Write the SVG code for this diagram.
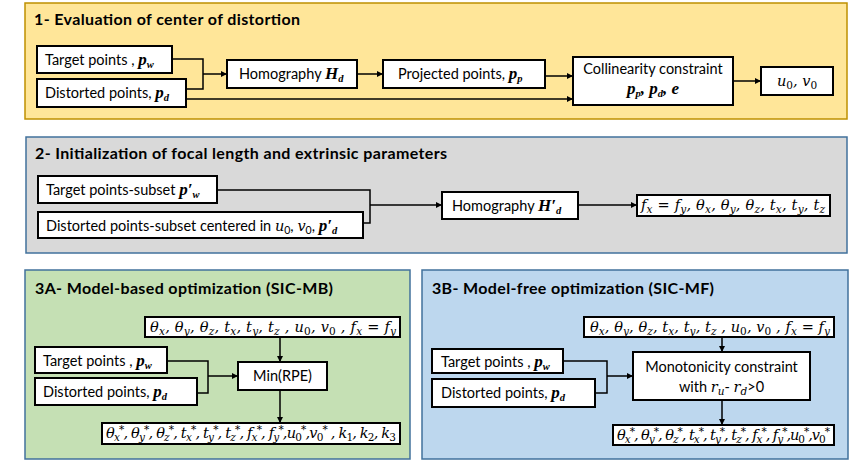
<svg xmlns="http://www.w3.org/2000/svg" width="863" height="464" viewBox="0 0 863 464">
<defs>
<marker id="ah" viewBox="0 0 10 10" refX="10" refY="5" markerWidth="7" markerHeight="6" markerUnits="userSpaceOnUse" orient="auto"><path d="M0,0 L10,5 L0,10 z" fill="#000"/></marker>
<style>
.s1{fill:#FFE699;stroke:#BF9000;stroke-width:1.5}
.s2{fill:#D9D9D9;stroke:#41719C;stroke-width:1.5}
.s3a{fill:#C5E0B4;stroke:#41719C;stroke-width:1.5}
.s3b{fill:#BDD7EE;stroke:#41719C;stroke-width:1.5}
.box{fill:#fff;stroke:#000;stroke-width:2}
.t{font-family:Lato,"Open Sans",sans-serif;font-size:14.5px;fill:#000}
.ti{font-family:Lato,"Open Sans",sans-serif;font-weight:bold;font-size:16px;fill:#000}
.m{font-family:"DejaVu Serif",serif;font-style:italic;font-size:14.5px}
.mb{font-family:"Liberation Serif",serif;font-style:italic;font-weight:bold;font-size:17px}
.sb{font-size:10.5px}
.n{font-style:normal}
.c{fill:none;stroke:#000;stroke-width:1.5}
.a{fill:none;stroke:#000;stroke-width:1.5;marker-end:url(#ah)}
</style>
</defs>
<g id="section1">
<rect class="s1" x="25" y="3" width="822" height="116"/>
<text class="ti" x="34" y="25" textLength="266">1- Evaluation of center of distortion</text>
</g>
<g id="section2">
<rect class="s2" x="26" y="137" width="821" height="116"/>
<text class="ti" x="35" y="159" textLength="412">2- Initialization of focal length and extrinsic parameters</text>
</g>
<g id="section3a">
<rect class="s3a" x="25" y="270" width="385" height="189"/>
<text class="ti" x="35" y="294" textLength="298">3A- Model-based optimization  (SIC-MB)</text>
</g>
<g id="section3b">
<rect class="s3b" x="422" y="270" width="426" height="189"/>
<text class="ti" x="432" y="294" textLength="282">3B- Model-free optimization  (SIC-MF)</text>
</g>

<g id="n1-target">
<rect class="box" x="37" y="46" width="135" height="27"/>
<text class="t" x="45" y="65">Target points , <tspan class="mb">p</tspan><tspan class="mb sb" dy="3">w</tspan></text>
</g>
<g id="n1-distorted">
<rect class="box" x="37" y="79" width="149" height="28"/>
<text class="t" x="45" y="98">Distorted points, <tspan class="mb">p</tspan><tspan class="mb sb" dy="3">d</tspan></text>
</g>
<g id="n1-homography">
<rect class="box" x="227" y="60" width="130" height="28"/>
<text class="t" x="239" y="79">Homography <tspan class="mb">H</tspan><tspan class="mb sb" dy="3">d</tspan></text>
</g>
<g id="n1-projected">
<rect class="box" x="383" y="60" width="162" height="28"/>
<text class="t" x="398" y="79">Projected points, <tspan class="mb">p</tspan><tspan class="mb sb" dy="3">p</tspan></text>
</g>
<g id="n1-collinearity">
<rect class="box" x="573" y="57" width="160" height="48"/>
<text class="t" x="653" y="74" text-anchor="middle">Collinearity constraint</text>
<text class="t" x="653" y="94" text-anchor="middle"><tspan class="mb">p</tspan><tspan class="mb sb" dy="3">p</tspan><tspan class="mb" dy="-3">, p</tspan><tspan class="mb sb" dy="3">d</tspan><tspan class="mb" dy="-3">, e</tspan></text>
</g>
<g id="n1-center">
<rect class="box" x="761" y="67" width="72" height="28"/>
<text class="m" x="797" y="86" text-anchor="middle">u<tspan class="sb n" dy="3">0</tspan><tspan dy="-3">, v</tspan><tspan class="sb n" dy="3">0</tspan></text>
</g>

<g id="n2-target">
<rect class="box" x="38" y="176" width="179" height="27"/>
<text class="t" x="46" y="195">Target points-subset <tspan class="mb">p′</tspan><tspan class="mb sb" dy="3">w</tspan></text>
</g>
<g id="n2-distorted">
<rect class="box" x="38" y="212" width="325" height="26"/>
<text class="t" x="46" y="231">Distorted points-subset centered in <tspan class="m">u</tspan><tspan class="sb" dy="3">0</tspan><tspan dy="-3">, </tspan><tspan class="m">v</tspan><tspan class="sb" dy="3">0</tspan><tspan dy="-3">, </tspan><tspan class="mb">p′</tspan><tspan class="mb sb" dy="3">d</tspan></text>
</g>
<g id="n2-homography">
<rect class="box" x="442" y="192" width="136" height="27"/>
<text class="t" x="452" y="211">Homography <tspan class="mb">H′</tspan><tspan class="mb sb" dy="3">d</tspan></text>
</g>
<g id="n2-result">
<rect class="box" x="637" y="195" width="193" height="21"/>
<text class="m" x="733" y="210" text-anchor="middle" textLength="184">f<tspan class="sb" dy="3">x</tspan><tspan class="n" dy="-3"> = </tspan>f<tspan class="sb" dy="3">y</tspan><tspan dy="-3">, θ</tspan><tspan class="sb" dy="3">x</tspan><tspan dy="-3">, θ</tspan><tspan class="sb" dy="3">y</tspan><tspan dy="-3">, θ</tspan><tspan class="sb" dy="3">z</tspan><tspan dy="-3">, t</tspan><tspan class="sb" dy="3">x</tspan><tspan dy="-3">, t</tspan><tspan class="sb" dy="3">y</tspan><tspan dy="-3">, t</tspan><tspan class="sb" dy="3">z</tspan></text>
</g>

<g id="n3a-params">
<rect class="box" x="145" y="317" width="255" height="20"/>
<text class="m" x="273" y="332" text-anchor="middle" textLength="246">θ<tspan class="sb" dy="3">x</tspan><tspan dy="-3">, θ</tspan><tspan class="sb" dy="3">y</tspan><tspan dy="-3">, θ</tspan><tspan class="sb" dy="3">z</tspan><tspan dy="-3">, t</tspan><tspan class="sb" dy="3">x</tspan><tspan dy="-3">, t</tspan><tspan class="sb" dy="3">y</tspan><tspan dy="-3">, t</tspan><tspan class="sb" dy="3">z</tspan><tspan dy="-3"> , u</tspan><tspan class="sb n" dy="3">0</tspan><tspan dy="-3">, v</tspan><tspan class="sb n" dy="3">0</tspan><tspan dy="-3"> , f</tspan><tspan class="sb" dy="3">x</tspan><tspan class="n" dy="-3"> = </tspan>f<tspan class="sb" dy="3">y</tspan></text>
</g>
<g id="n3a-target">
<rect class="box" x="35" y="347" width="132" height="26"/>
<text class="t" x="43" y="366">Target points , <tspan class="mb">p</tspan><tspan class="mb sb" dy="3">w</tspan></text>
</g>
<g id="n3a-distorted">
<rect class="box" x="35" y="378" width="162" height="27"/>
<text class="t" x="43" y="397">Distorted points, <tspan class="mb">p</tspan><tspan class="mb sb" dy="3">d</tspan></text>
</g>
<g id="n3a-min">
<rect class="box" x="238" y="362" width="89" height="28"/>
<text class="t" x="282.5" y="381" text-anchor="middle">Min(RPE)</text>
</g>
<g id="n3a-output">
<rect class="box" x="102" y="423" width="298" height="21"/>
<text class="m" x="251" y="438" text-anchor="middle" textLength="290">θ<tspan class="sb" dy="3">x</tspan><tspan class="sb" dy="-8">*</tspan><tspan dy="5">, θ</tspan><tspan class="sb" dy="3">y</tspan><tspan class="sb" dy="-8">*</tspan><tspan dy="5">, θ</tspan><tspan class="sb" dy="3">z</tspan><tspan class="sb" dy="-8">*</tspan><tspan dy="5">, t</tspan><tspan class="sb" dy="3">x</tspan><tspan class="sb" dy="-8">*</tspan><tspan dy="5">, t</tspan><tspan class="sb" dy="3">y</tspan><tspan class="sb" dy="-8">*</tspan><tspan dy="5">, t</tspan><tspan class="sb" dy="3">z</tspan><tspan class="sb" dy="-8">*</tspan><tspan dy="5">, f</tspan><tspan class="sb" dy="3">x</tspan><tspan class="sb" dy="-8">*</tspan><tspan dy="5">, f</tspan><tspan class="sb" dy="3">y</tspan><tspan class="sb" dy="-8">*</tspan><tspan dy="5">,u</tspan><tspan class="sb n" dy="3">0</tspan><tspan class="sb" dy="-8">*</tspan><tspan dy="5">,v</tspan><tspan class="sb n" dy="3">0</tspan><tspan class="sb" dy="-8">*</tspan><tspan dy="5"> , k</tspan><tspan class="sb n" dy="3">1</tspan><tspan dy="-3">, k</tspan><tspan class="sb n" dy="3">2</tspan><tspan dy="-3">, k</tspan><tspan class="sb n" dy="3">3</tspan></text>
</g>

<g id="n3b-params">
<rect class="box" x="584" y="317" width="250" height="20"/>
<text class="m" x="710" y="332" text-anchor="middle" textLength="240">θ<tspan class="sb" dy="3">x</tspan><tspan dy="-3">, θ</tspan><tspan class="sb" dy="3">y</tspan><tspan dy="-3">, θ</tspan><tspan class="sb" dy="3">z</tspan><tspan dy="-3">, t</tspan><tspan class="sb" dy="3">x</tspan><tspan dy="-3">, t</tspan><tspan class="sb" dy="3">y</tspan><tspan dy="-3">, t</tspan><tspan class="sb" dy="3">z</tspan><tspan dy="-3"> , u</tspan><tspan class="sb n" dy="3">0</tspan><tspan dy="-3">, v</tspan><tspan class="sb n" dy="3">0</tspan><tspan dy="-3"> , f</tspan><tspan class="sb" dy="3">x</tspan><tspan class="n" dy="-3"> = </tspan>f<tspan class="sb" dy="3">y</tspan></text>
</g>
<g id="n3b-target">
<rect class="box" x="432" y="349" width="131" height="24"/>
<text class="t" x="441" y="367">Target points , <tspan class="mb">p</tspan><tspan class="mb sb" dy="3">w</tspan></text>
</g>
<g id="n3b-distorted">
<rect class="box" x="432" y="379" width="163" height="28"/>
<text class="t" x="441" y="398">Distorted points, <tspan class="mb">p</tspan><tspan class="mb sb" dy="3">d</tspan></text>
</g>
<g id="n3b-mono">
<rect class="box" x="633" y="352" width="177" height="48"/>
<text class="t" x="721.5" y="372" text-anchor="middle">Monotonicity constraint</text>
<text class="t" x="721.5" y="392" text-anchor="middle">with <tspan class="m">r</tspan><tspan class="m sb" dy="3">u</tspan><tspan dy="-3">- </tspan><tspan class="m">r</tspan><tspan class="m sb" dy="3">d</tspan><tspan dy="-3">&gt;0</tspan></text>
</g>
<g id="n3b-output">
<rect class="box" x="613" y="425" width="221" height="20"/>
<text class="m" x="723.5" y="440" text-anchor="middle" textLength="213">θ<tspan class="sb" dy="3">x</tspan><tspan class="sb" dy="-8">*</tspan><tspan dy="5">, θ</tspan><tspan class="sb" dy="3">y</tspan><tspan class="sb" dy="-8">*</tspan><tspan dy="5">, θ</tspan><tspan class="sb" dy="3">z</tspan><tspan class="sb" dy="-8">*</tspan><tspan dy="5">, t</tspan><tspan class="sb" dy="3">x</tspan><tspan class="sb" dy="-8">*</tspan><tspan dy="5">, t</tspan><tspan class="sb" dy="3">y</tspan><tspan class="sb" dy="-8">*</tspan><tspan dy="5">, t</tspan><tspan class="sb" dy="3">z</tspan><tspan class="sb" dy="-8">*</tspan><tspan dy="5">, f</tspan><tspan class="sb" dy="3">x</tspan><tspan class="sb" dy="-8">*</tspan><tspan dy="5">, f</tspan><tspan class="sb" dy="3">y</tspan><tspan class="sb" dy="-8">*</tspan><tspan dy="5">,u</tspan><tspan class="sb n" dy="3">0</tspan><tspan class="sb" dy="-8">*</tspan><tspan dy="5">,v</tspan><tspan class="sb n" dy="3">0</tspan><tspan class="sb" dy="-8">*</tspan></text>
</g>

<g id="connectors">
<polyline class="c" points="172,59 203,59 203,89 186,89"/>
<line class="a" x1="203" y1="74" x2="227" y2="74"/>
<line class="a" x1="357" y1="74" x2="383" y2="74"/>
<line class="a" x1="545" y1="76" x2="573" y2="76"/>
<line class="a" x1="186" y1="99" x2="573" y2="99"/>
<line class="a" x1="733" y1="81" x2="761" y2="81"/>

<polyline class="c" points="217,190 370,190 370,223 363,223"/>
<line class="a" x1="370" y1="205" x2="442" y2="205"/>
<line class="a" x1="578" y1="205" x2="637" y2="205"/>

<polyline class="c" points="167,361 208,361 208,393 197,393"/>
<line class="a" x1="208" y1="376" x2="238" y2="376"/>
<line class="a" x1="280" y1="337" x2="280" y2="362"/>
<line class="a" x1="280" y1="390" x2="280" y2="423"/>

<polyline class="c" points="563,361 607,361 607,393 595,393"/>
<line class="a" x1="607" y1="376" x2="633" y2="376"/>
<line class="a" x1="722" y1="337" x2="722" y2="352"/>
<line class="a" x1="722" y1="400" x2="722" y2="425"/>
</g>
</svg>
